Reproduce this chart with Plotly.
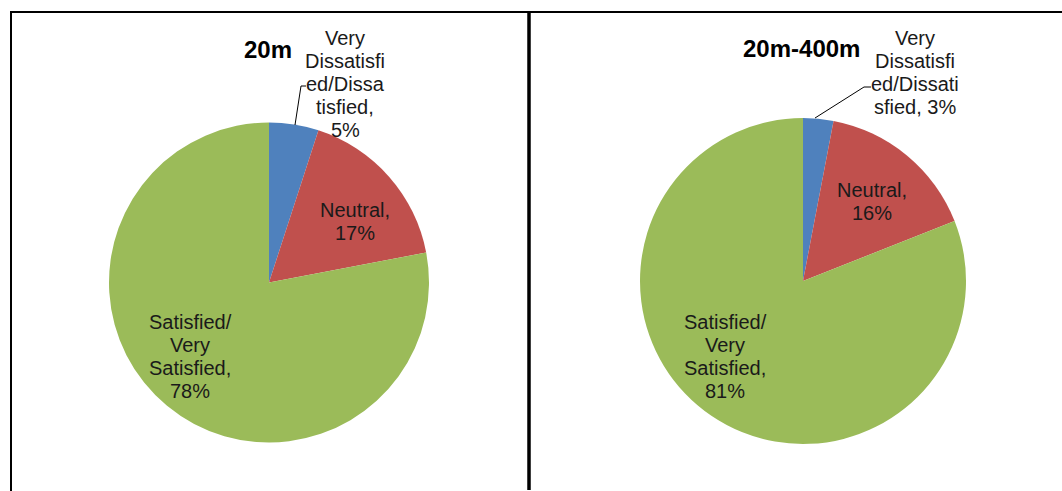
import plotly.graph_objects as go

# Satisfaction survey results by distance band
categories = ["Very Dissatisfied/Dissatisfied", "Neutral", "Satisfied/Very Satisfied"]
values_20m = [5, 17, 78]
values_20_400m = [3, 16, 81]
titles = ["20m", "20m-400m"]

# Wrapped label text for each slice; {v} is filled with the slice value
labels_20m = ["Very<br>Dissatisfi<br>ed/Dissa<br>tisfied,<br>{v}%",
              "Neutral,<br>{v}%",
              "Satisfied/<br>Very<br>Satisfied,<br>{v}%"]
labels_20_400m = ["Very<br>Dissatisfi<br>ed/Dissati<br>sfied, {v}%",
                  "Neutral,<br>{v}%",
                  "Satisfied/<br>Very<br>Satisfied,<br>{v}%"]

colors = ["#4F81BD", "#C0504D", "#9BBB59"]

W, H = 1062, 491
FONT = "Liberation Sans, Arial, sans-serif"
TEXT_COLOR = "#1a1a1a"


def px(x):
    return x / W


def py(y):
    return 1 - y / H


fig = go.Figure()

# Pie geometry in pixels: (centre x, centre y, radius)
pies = [
    (values_20m, labels_20m, (269, 282.5, 160)),
    (values_20_400m, labels_20_400m, (803, 281, 163)),
]

for vals, _, (cx, cy, r) in pies:
    fig.add_trace(go.Pie(
        labels=categories,
        values=vals,
        sort=False,
        direction="clockwise",
        rotation=0,
        textinfo="none",
        hoverinfo="label+percent",
        marker=dict(colors=colors, line=dict(width=0)),
        domain=dict(x=[px(cx - r), px(cx + r)], y=[py(cy + r), py(cy - r)]),
        showlegend=False,
    ))

# Label anchor points (centre x, first line y) per slice
label_pos = [
    [(345, 38), (355, 210), (190, 322)],
    [(915, 38), (872, 190), (725, 322)],
]
LINE_STEP = 23

annotations = []
for (vals, labs, _), positions in zip(pies, label_pos):
    for v, lab, (lx, ly) in zip(vals, labs, positions):
        for i, line in enumerate(lab.format(v=v).split("<br>")):
            annotations.append(dict(
                x=px(lx), y=py(ly + i * LINE_STEP), xref="paper", yref="paper",
                text=line, showarrow=False, xanchor="center", yanchor="middle",
                font=dict(family=FONT, size=20, color=TEXT_COLOR),
            ))

# Chart titles
for t, (tx, ty) in zip(titles, [(268, 49), (801, 48)]):
    annotations.append(dict(
        x=px(tx), y=py(ty), xref="paper", yref="paper",
        text=f"<b>{t}</b>", showarrow=False, xanchor="center", yanchor="middle",
        font=dict(family=FONT, size=24, color="#000000"),
    ))

shapes = []
# Leader lines from the small slices to their labels
for path in [
    [(295, 125), (301, 86), (306, 86)],
    [(815, 118), (864, 87), (871, 87)],
]:
    d = "M " + " L ".join(f"{px(x)} {py(y)}" for x, y in path)
    shapes.append(dict(type="path", path=d, xref="paper", yref="paper",
                       line=dict(color="#000000", width=1)))

# Panel borders
shapes += [
    dict(type="line", x0=px(10), x1=1, y0=py(12), y1=py(12), xref="paper", yref="paper",
         line=dict(color="#000000", width=2)),
    dict(type="line", x0=px(11), x1=px(11), y0=py(12), y1=0, xref="paper", yref="paper",
         line=dict(color="#000000", width=2)),
    dict(type="line", x0=px(529), x1=px(529), y0=py(12), y1=py(490), xref="paper", yref="paper",
         line=dict(color="#000000", width=3.5)),
]

fig.update_layout(
    width=W, height=H,
    margin=dict(l=0, r=0, t=0, b=0),
    paper_bgcolor="#ffffff",
    plot_bgcolor="#ffffff",
    annotations=annotations,
    shapes=shapes,
)

fig.write_html("out.html", config={"displayModeBar": False})
